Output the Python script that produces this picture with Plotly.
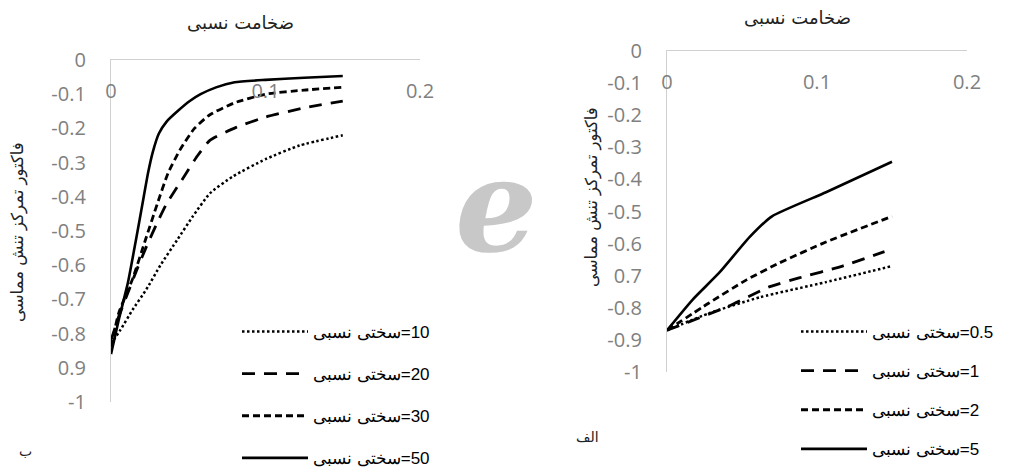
import plotly.graph_objects as go

# ---------------- data ----------------
# Left panel (ب): relative stiffness 10, 20, 30, 50
left_stiffness = [10, 20, 30, 50]
left_x10 = [0, 0.006, 0.014, 0.023, 0.032, 0.043, 0.053, 0.064, 0.079, 0.1, 0.122, 0.15]
left_y10 = [-0.83, -0.79, -0.73, -0.67, -0.60, -0.525, -0.457, -0.39, -0.34, -0.29, -0.25, -0.22]
left_x20 = [0, 0.005, 0.011, 0.017, 0.023, 0.03, 0.036, 0.046, 0.056, 0.064, 0.081, 0.1, 0.125, 0.15]
left_y20 = [-0.82, -0.75, -0.68, -0.61, -0.545, -0.475, -0.42, -0.35, -0.28, -0.235, -0.197, -0.167, -0.14, -0.12]
left_x30 = [0, 0.005, 0.014, 0.022, 0.03, 0.037, 0.045, 0.054, 0.064, 0.08, 0.1, 0.125, 0.15]
left_y30 = [-0.84, -0.74, -0.64, -0.53, -0.42, -0.33, -0.26, -0.2, -0.16, -0.125, -0.10, -0.088, -0.08]
left_x50 = [0, 0.005, 0.011, 0.016, 0.02, 0.024, 0.027, 0.031, 0.036, 0.043, 0.051, 0.058, 0.068, 0.08, 0.1, 0.125, 0.15]
left_y50 = [-0.86, -0.76, -0.65, -0.53, -0.43, -0.33, -0.27, -0.215, -0.18, -0.15, -0.12, -0.10, -0.08, -0.065, -0.058, -0.052, -0.047]

# Right panel (الف): relative stiffness 0.5, 1, 2, 5
right_stiffness = [0.5, 1, 2, 5]
right_x05 = [0, 0.028, 0.062, 0.106, 0.15]
right_y05 = [-0.87, -0.817, -0.767, -0.72, -0.67]
right_x1 = [0, 0.04, 0.068, 0.088, 0.117, 0.145]
right_y1 = [-0.87, -0.797, -0.735, -0.707, -0.67, -0.625]
right_x2 = [0, 0.028, 0.053, 0.075, 0.106, 0.15]
right_y2 = [-0.87, -0.785, -0.713, -0.66, -0.595, -0.515]
right_x5 = [0, 0.017, 0.035, 0.055, 0.07, 0.106, 0.15]
right_y5 = [-0.87, -0.775, -0.69, -0.58, -0.515, -0.44, -0.345]

x_tickvals = [0, 0.1, 0.2]
x_ticktext = ["0", "0.1", "0.2"]
y_tickvals = [0, -0.1, -0.2, -0.3, -0.4, -0.5, -0.6, -0.7, -0.8, -0.9, -1]
left_y_ticktext = ["0", "-0.1", "-0.2", "-0.3", "-0.4", "-0.5", "-0.6", "-0.7", "-0.8", "0.9", "-1"]
right_y_ticktext = ["0", "-0.1", "-0.2", "-0.3", "-0.4", "-0.5", "-0.6", "0.7", "-0.8", "-0.9", "-1"]

x_title = "ضخامت نسبی"
y_title = "فاکتور تمرکز تنش مماسی"
legend_word = "سختی نسبی"
left_panel_label = "ب"
right_panel_label = "الف"
watermark = "ℯ"

# ---------------- styles ----------------
dash_styles = ["2.5px,2.5px", "13px,9px", "7px,4px", "solid"]
line_widths = [2.5, 2.8, 2.8, 2.6]

W, H = 1021, 468

def label(v):
    return legend_word + "\u200e=" + str(v)

fig = go.Figure()

left_series = [(left_x10, left_y10), (left_x20, left_y20), (left_x30, left_y30), (left_x50, left_y50)]
right_series = [(right_x05, right_y05), (right_x1, right_y1), (right_x2, right_y2), (right_x5, right_y5)]

for i, ((xs, ys), v) in enumerate(zip(left_series, left_stiffness)):
    fig.add_trace(go.Scatter(
        x=xs, y=ys, mode="lines", name=label(v),
        line=dict(color="black", width=line_widths[i], dash=dash_styles[i], shape="spline", smoothing=0.5),
        xaxis="x", yaxis="y", legend="legend", legendgroup="L%d" % i,
    ))
for i, ((xs, ys), v) in enumerate(zip(right_series, right_stiffness)):
    fig.add_trace(go.Scatter(
        x=xs, y=ys, mode="lines", name=label(v),
        line=dict(color="black", width=line_widths[i], dash=dash_styles[i], shape="spline", smoothing=0.5),
        xaxis="x2", yaxis="y2", legend="legend2", legendgroup="R%d" % i,
    ))

tick_font = dict(family="Open Sans, sans-serif", size=20, color="#808080")
axis_line = "#d0d0d0"

def xaxis(domain, anchor):
    return dict(
        domain=domain, anchor=anchor, range=[0, 0.2], side="top",
        showline=True, linecolor=axis_line, linewidth=1.3, showgrid=False, zeroline=False,
        tickvals=x_tickvals, ticktext=x_ticktext, ticks="",
        ticklabelposition="inside", ticklabeloverflow="allow", ticklabelstandoff=25,
        tickfont=tick_font, fixedrange=True, automargin=False,
    )

def yaxis(domain, anchor, texts):
    return dict(
        domain=domain, anchor=anchor, range=[-1, 0],
        showline=True, linecolor=axis_line, linewidth=1.3, showgrid=False, zeroline=False,
        tickvals=y_tickvals, ticktext=texts, ticks="", ticklabelstandoff=20,
        tickfont=tick_font, fixedrange=True, automargin=False,
    )

legend_common = dict(
    font=dict(family="Liberation Sans, Arial, sans-serif", size=17, color="black"),
    bgcolor="rgba(0,0,0,0)", itemwidth=66, xanchor="left", yanchor="top",
    traceorder="grouped", itemclick=False, itemdoubleclick=False,
)

fig.update_layout(
    width=W, height=H, margin=dict(l=0, r=0, t=0, b=0, autoexpand=False),
    paper_bgcolor="white", plot_bgcolor="white", showlegend=True,
    xaxis=xaxis([111 / W, 420 / W], "y"),
    yaxis=yaxis([1 - 402 / H, 1 - 60 / H], "x", left_y_ticktext),
    xaxis2=xaxis([667 / W, 967 / W], "y2"),
    yaxis2=yaxis([1 - 372 / H, 1 - 51 / H], "x2", right_y_ticktext),
    legend=dict(x=237 / W, y=1 - 314 / H, tracegroupgap=17, **legend_common),
    legend2=dict(x=796 / W, y=1 - 314 / H, tracegroupgap=14, **legend_common),
)

xt_font = dict(family="DejaVu Sans, sans-serif", size=18, color="#222222")
yt_font = dict(family="DejaVu Sans, sans-serif", size=16.5, color="#222222")
pl_font = dict(family="DejaVu Sans, sans-serif", size=14, color="#222222")
annos = [
    dict(x=240 / W, y=1 - 22 / H, text=x_title, font=xt_font),
    dict(x=797 / W, y=1 - 18 / H, text=x_title, font=xt_font),
    dict(x=18 / W, y=1 - 232 / H, text=y_title, textangle=-90, font=yt_font),
    dict(x=592 / W, y=1 - 197 / H, text=y_title, textangle=-90, font=yt_font),
    dict(x=25 / W, y=1 - 451 / H, text=left_panel_label, font=pl_font),
    dict(x=587 / W, y=1 - 437 / H, text=right_panel_label, font=pl_font),
    dict(x=496 / W, y=1 - 205 / H, text=watermark, textangle=0,
         font=dict(family="DejaVu Serif, DejaVu Sans, serif", size=130, color="#c8c8c8", weight="bold")),
]
for a in annos:
    a.update(xref="paper", yref="paper", showarrow=False, xanchor="center", yanchor="middle")
fig.update_layout(annotations=annos)

fig.write_html("out.html", config={"displayModeBar": False})
